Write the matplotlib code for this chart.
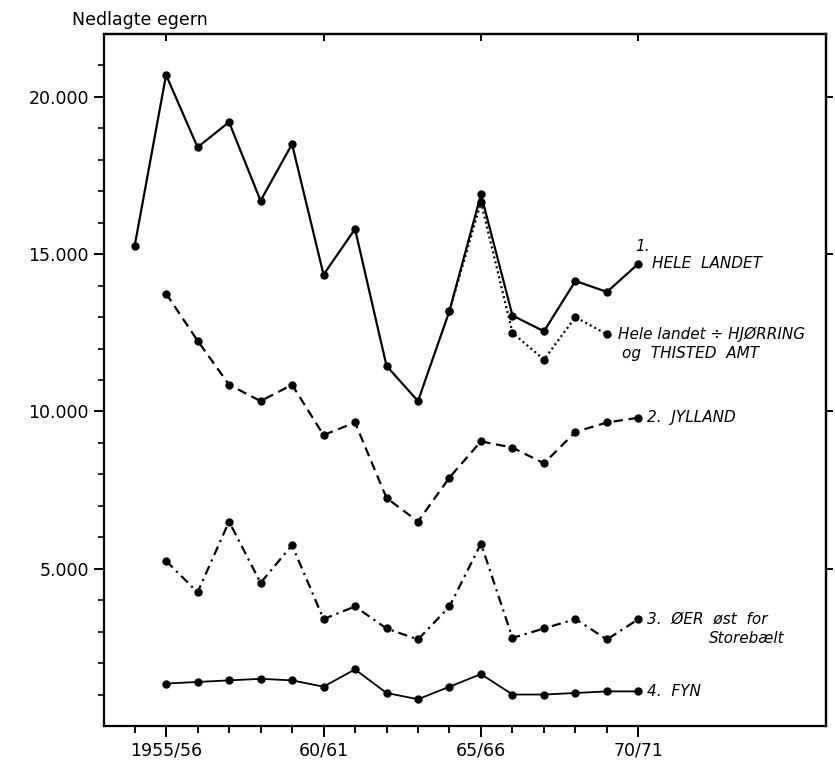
import matplotlib
matplotlib.use("Agg")
import matplotlib.pyplot as plt
from matplotlib.ticker import FixedLocator, NullLocator, FuncFormatter

# ---------------- data ----------------
years_all = list(range(1954, 1971))          # season start year: 1954/55 ... 1970/71
years = list(range(1955, 1971))              # 1955/56 ... 1970/71

hele_landet = [15250, 20700, 18400, 19200, 16700, 18500, 14350, 15800,
               11450, 10330, 13200, 16900, 13050, 12550, 14150, 13800, 14700]

years_excl = list(range(1964, 1970))         # 1964/65 ... 1969/70
hele_excl = [13200, 16650, 12500, 11650, 13000, 12450]

jylland = [13750, 12250, 10850, 10330, 10850, 9250, 9650, 7250,
           6500, 7900, 9050, 8850, 8350, 9350, 9650, 9800]

oer = [5250, 4250, 6500, 4550, 5750, 3400, 3800, 3100,
       2750, 3800, 5800, 2800, 3100, 3400, 2750, 3400]

fyn = [1350, 1400, 1450, 1500, 1450, 1250, 1800, 1050,
       850, 1250, 1650, 1000, 1000, 1050, 1100, 1100]

x_major = [1955, 1960, 1965, 1970]
x_major_labels = ["1955/56", "60/61", "65/66", "70/71"]
y_major = [5000, 10000, 15000, 20000]

# ---------------- figure ----------------
plt.rcParams['font.family'] = ['DejaVu Sans']
fig = plt.figure(figsize=(8.35, 7.63), dpi=100)
ax = fig.add_axes([0.1246, 0.0485, 0.989 - 0.1246, 0.9554 - 0.0485])

lw = 1.6
ms = 5
ax.plot(years_all, hele_landet, color='black', lw=lw, marker='o', ms=ms,
        solid_joinstyle='miter')
ax.plot(years_excl, hele_excl, color='black', lw=lw, ls=(0, (0.9, 1.4)),
        marker='o', ms=ms)
ax.plot(years, jylland, color='black', lw=lw, ls=(0, (4.2, 2.6)),
        marker='o', ms=ms)
ax.plot(years, oer, color='black', lw=lw, ls=(0, (4.2, 2.2, 1.0, 2.2)),
        marker='o', ms=ms)
ax.plot(years, fyn, color='black', lw=1.3, marker='o', ms=ms)

ax.set_xlim(1953.03, 1975.95)
ax.set_ylim(0, 22000)

for s in ax.spines.values():
    s.set_linewidth(1.6)

# x ticks (bottom, outward)
ax.xaxis.set_major_locator(FixedLocator(x_major))
ax.set_xticklabels(x_major_labels)
ax.xaxis.set_minor_locator(FixedLocator([y for y in range(1954, 1970) if y not in x_major]))
ax.tick_params(axis='x', which='major', direction='out', length=8, width=1.4,
               labelsize=12.5, pad=3)
ax.tick_params(axis='x', which='minor', direction='out', length=5, width=1.4)

# y ticks (left, outward)
ax.yaxis.set_major_locator(FixedLocator(y_major))
ax.yaxis.set_minor_locator(FixedLocator([v for v in range(1000, 22000, 1000) if v not in y_major]))
ax.yaxis.set_major_formatter(FuncFormatter(lambda v, p: f"{int(v):,}".replace(",", ".")))
ax.tick_params(axis='y', which='major', direction='out', length=7, width=1.4,
               labelsize=12.5, pad=4)
ax.tick_params(axis='y', which='minor', direction='out', length=4.5, width=1.2)

# top ticks (inward, majors only)
sx = ax.secondary_xaxis('top')
sx.xaxis.set_major_locator(FixedLocator(x_major))
sx.xaxis.set_minor_locator(NullLocator())
sx.tick_params(direction='in', length=5, width=1.4, labeltop=False)
sx.spines['top'].set_linewidth(1.6)

# right ticks (outward, majors only)
sy = ax.secondary_yaxis('right')
sy.yaxis.set_major_locator(FixedLocator(y_major))
sy.yaxis.set_minor_locator(NullLocator())
sy.tick_params(direction='out', length=5, width=1.4, labelright=False)
sy.spines['right'].set_linewidth(1.6)

# y axis title
fig.text(72 / 835, 1 - 20 / 763, "Nedlagte egern", fontsize=12.5,
         ha='left', va='center')

# series labels
lab = dict(fontsize=11, style='italic', textcoords='offset points',
           va='center', ha='left')
ax.annotate("1.", (years_all[-1], hele_landet[-1]), xytext=(-2, 12), **lab)
ax.annotate("HELE  LANDET", (years_all[-1], hele_landet[-1]), xytext=(10, 0), **lab)
ax.annotate("Hele landet ÷ HJØRRING", (years_excl[-1], hele_excl[-1]), xytext=(8, 0), **lab)
ax.annotate("og  THISTED  AMT", (years_excl[-1], hele_excl[-1]), xytext=(11, -13.5), **lab)
ax.annotate("2.  JYLLAND", (years[-1], jylland[-1]), xytext=(6.5, 0), **lab)
ax.annotate("3.  ØER  øst  for", (years[-1], oer[-1]), xytext=(6, 0), **lab)
ax.annotate("Storebælt", (years[-1], oer[-1]), xytext=(51, -14), **lab)
ax.annotate("4.  FYN", (years[-1], fyn[-1]), xytext=(6.5, 0), **lab)

fig.savefig("out.png", dpi=100)
